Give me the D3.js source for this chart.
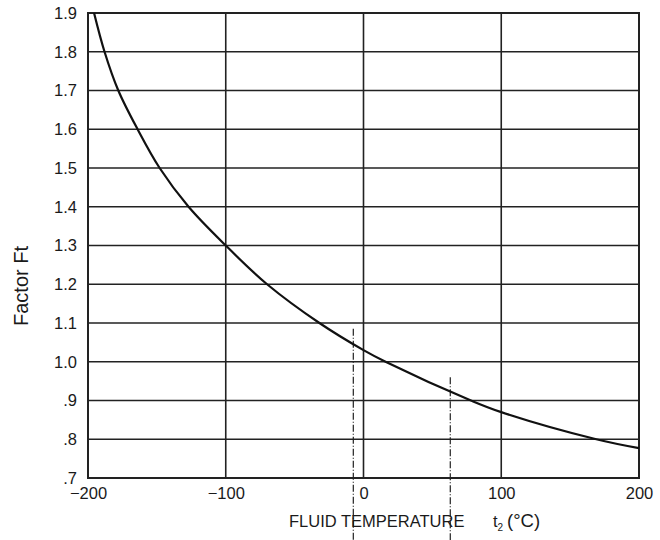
<!DOCTYPE html>
<html>
<head>
<meta charset="utf-8">
<script src="https://cdn.jsdelivr.net/npm/d3@7"></script>
<style>
  body { margin: 0; background: #fff; }
  text { font-family: "Liberation Sans", Arial, sans-serif; fill: #1a1a1a; }
</style>
</head>
<body>
<svg width="660" height="540"></svg>
<script>
// curve: fluid temperature (°C) vs factor Ft
const temps = [-195.6, -188, -178, -164, -148, -127, -100, -70, -32, 0, 16, 78, 100, 169, 200];
const factors = [1.9, 1.8, 1.7, 1.6, 1.5, 1.4, 1.3, 1.2, 1.1, 1.03, 1.0, 0.9, 0.87, 0.8, 0.777];

const xTicks = [-200, -100, 0, 100, 200];
const yTicks = [0.7, 0.8, 0.9, 1.0, 1.1, 1.2, 1.3, 1.4, 1.5, 1.6, 1.7, 1.8, 1.9];

// dash-dot marker lines: temperature and top factor
const markerTemps = [-7.4, 63];
const markerTops = [1.085, 0.96];

const svg = d3.select("svg");
const plotL = 88, plotR = 639, plotT = 13, plotB = 478;

const x = d3.scaleLinear().domain([-200, 200]).range([plotL, plotR]);
const y = d3.scaleLinear().domain([0.7, 1.9]).range([plotB, plotT]);

const fmtY = (d) => {
  const s = d.toFixed(1);
  return d < 1 ? s.slice(1) : s;
};

// grid
svg.append("g")
  .selectAll("line")
  .data(yTicks)
  .enter()
  .append("line")
  .attr("x1", plotL).attr("x2", plotR)
  .attr("y1", (d) => y(d)).attr("y2", (d) => y(d))
  .attr("stroke", "#222")
  .attr("stroke-width", 1.6);

svg.append("g")
  .selectAll("line")
  .data(xTicks)
  .enter()
  .append("line")
  .attr("x1", (d) => x(d)).attr("x2", (d) => x(d))
  .attr("y1", plotT).attr("y2", plotB)
  .attr("stroke", "#222")
  .attr("stroke-width", 1.6);

// frame
svg.append("rect")
  .attr("x", plotL).attr("y", plotT)
  .attr("width", plotR - plotL).attr("height", plotB - plotT)
  .attr("fill", "none")
  .attr("stroke", "#222")
  .attr("stroke-width", 2);

// axes (labels only)
const yAxis = svg.append("g")
  .attr("transform", `translate(${plotL}, 0)`)
  .call(d3.axisLeft(y).tickValues(yTicks).tickFormat(fmtY).tickSize(0).tickPadding(11));
yAxis.select(".domain").remove();
yAxis.selectAll("text").style("font-size", "16.5px").attr("fill", "#1a1a1a");

const xAxis = svg.append("g")
  .attr("transform", `translate(0, ${plotB})`)
  .call(d3.axisBottom(x).tickValues(xTicks).tickFormat((d) => d < 0 ? "\u2212" + Math.abs(d) : d).tickSize(0).tickPadding(9));
xAxis.select(".domain").remove();
xAxis.selectAll("text").style("font-size", "16.5px").attr("fill", "#1a1a1a");

// dash-dot markers
svg.append("g")
  .selectAll("line")
  .data(markerTemps)
  .enter()
  .append("line")
  .attr("x1", (d) => x(d)).attr("x2", (d) => x(d))
  .attr("y1", (d, i) => y(markerTops[i]))
  .attr("y2", 540)
  .attr("stroke", "#222")
  .attr("stroke-width", 1.2)
  .attr("stroke-dasharray", "7,2,1,2");

// curve
const pts = temps.map((t, i) => [t, factors[i]]);
svg.append("path")
  .datum(pts)
  .attr("fill", "none")
  .attr("stroke", "#111")
  .attr("stroke-width", 2.2)
  .attr("d", d3.line()
    .x((d) => x(d[0]))
    .y((d) => y(d[1]))
    .curve(d3.curveCatmullRom.alpha(0.5)));

// axis titles
svg.append("text")
  .attr("transform", "translate(28, 286) rotate(-90)")
  .attr("text-anchor", "middle")
  .style("font-size", "20px")
  .text("Factor Ft");

const xt = svg.append("text")
  .attr("x", 289)
  .attr("y", 527)
  .style("font-size", "16.5px");
xt.append("tspan").text("FLUID TEMPERATURE");
xt.append("tspan").attr("x", 493).text("t");
xt.append("tspan").attr("dy", 4).style("font-size", "10px").text("2");
xt.append("tspan").attr("dy", -4).attr("x", 507).style("font-size", "18.5px").text("(\u00B0C)");
</script>
</body>
</html>
